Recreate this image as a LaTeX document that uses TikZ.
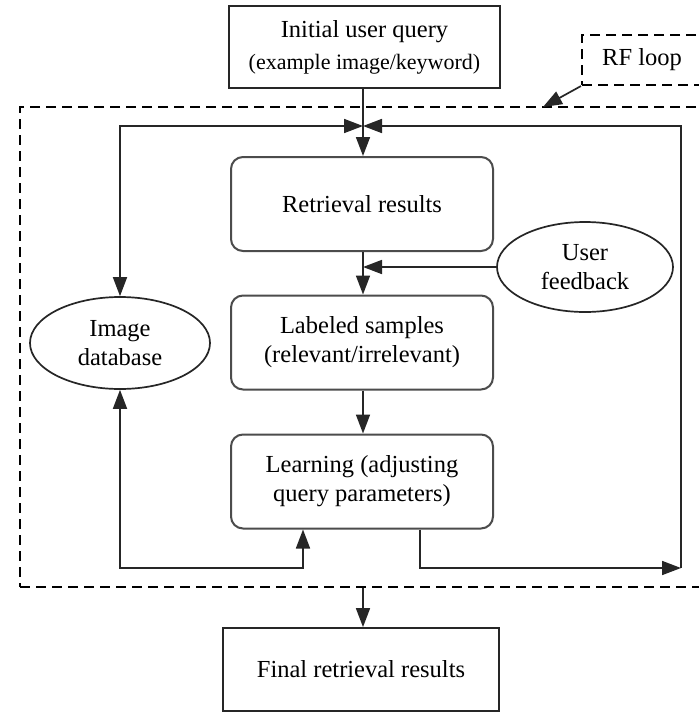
\documentclass[tikz,border=0pt]{standalone}
\usepackage{fontspec}
\setmainfont{Liberation Serif}
\usetikzlibrary{arrows.meta,shapes.geometric}
\tikzset{
  tip/.tip={Triangle[length=19pt,width=14pt]},
  sqbox/.style={draw=black!85,line width=1.8pt,rectangle},
  rbox/.style={draw=black!70,line width=2pt,rounded corners=12pt,minimum width=262pt,minimum height=94pt},
  oval/.style={draw=black!85,line width=1.7pt,ellipse},
  conn/.style={draw=black!85,line width=1.7pt},
  arr/.style={conn,-tip},
  bothar/.style={conn,tip-tip},
  dashbox/.style={draw=black,line width=2.1pt,dash pattern=on 10pt off 6pt},
}
\begin{document}
\begin{tikzpicture}[x=1pt,y=-1pt,
  every node/.style={font=\fontsize{24.5}{29}\selectfont,align=center,inner sep=0pt}]
\useasboundingbox (0,0) rectangle (699,713);
\clip (0,0) rectangle (699,713);
\fill[white] (0,0) rectangle (699,713);

\node[dashbox,minimum width=690pt,minimum height=480pt] (loop) at (365,347) {};
\node[dashbox,minimum width=120pt,minimum height=50pt] (rf) at (642,60) {RF loop};

\node[sqbox,minimum width=271pt,minimum height=82pt] (init) at (364.5,47)
  {Initial user query\\[3pt]{\fontsize{22}{26}\selectfont (example image/keyword)}};
\node[rbox] (ret) at (362,204) {Retrieval results};
\node[rbox] (lab) at (362,342.5) {Labeled samples\\(relevant/irrelevant)};
\node[rbox] (learn) at (362,481.5) {Learning (adjusting\\query parameters)};
\node[sqbox,minimum width=276pt,minimum height=83pt] (final) at (361,669.5) {Final retrieval results};
\node[oval,minimum width=180pt,minimum height=92pt] (imgdb) at (120,343) {Image\\database};
\node[oval,minimum width=176pt,minimum height=90pt] (uf) at (585,267) {User\\feedback};

\coordinate (j) at (363,126);
\coordinate (br) at (681,568);
\coordinate (bl) at (303,568);
\coordinate (rfp) at (543,107);

\draw[arr] (init.south -| j) -- (ret.north -| j);
\draw[bothar] (j) -| (imgdb.north);
\draw[arr] (br) |- (j);
\draw[arr] ([xshift=58pt]learn.south) |- (br);
\draw[bothar] ([xshift=-59pt]learn.south) -- (bl) -| (imgdb.south);
\draw[arr] (ret.south -| j) -- (lab.north -| j);
\draw[arr] (uf.west) -- (uf.west -| j);
\draw[arr] (lab.south -| j) -- (learn.north -| j);
\draw[arr] (loop.south -| j) -- (final.north -| j);
\draw[arr] (rf.south west) -- (rfp);
\end{tikzpicture}
\end{document}
